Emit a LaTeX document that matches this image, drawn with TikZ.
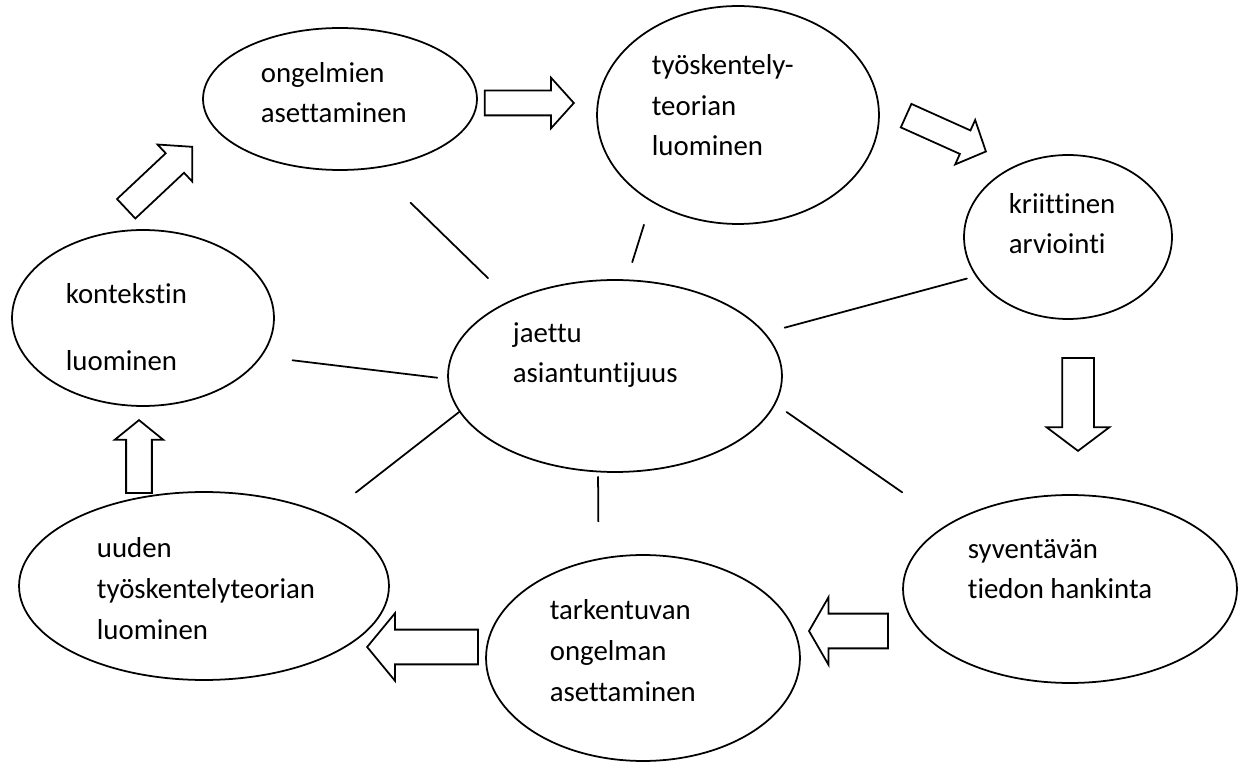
\documentclass[tikz,border=0pt]{standalone}
\usepackage{fontspec}
\setmainfont{Carlito}[Ligatures={NoCommon,NoContextual}]
\usetikzlibrary{shapes.geometric, shapes.arrows}

\begin{document}
\begin{tikzpicture}[x=0.02cm, y=-0.02cm, line width=1pt,
    bubble/.style={ellipse, draw, inner sep=0pt},
    lbl/.style={anchor=base west, align=left, inner sep=0pt,
      font=\fontsize{16.4}{23.3}\selectfont},
    spoke/.style={line cap=round},
    blockarrow/.style={single arrow, draw, inner xsep=0pt, anchor=tip}]
  \useasboundingbox (0,0) rectangle (1238,763);

  % bubbles
  \node[bubble, minimum width=5.48cm, minimum height=2.84cm] (ong) at (340,99) {};
  \node[bubble, minimum width=5.64cm, minimum height=4.36cm] (tyo) at (738,115) {};
  \node[bubble, minimum width=4.16cm, minimum height=3.28cm] (kri) at (1068,237) {};
  \node[bubble, minimum width=6.68cm, minimum height=3.84cm] (jae) at (615,376) {};
  \node[bubble, minimum width=5.24cm, minimum height=3.52cm] (kon) at (143,318) {};
  \node[bubble, minimum width=7.40cm, minimum height=3.76cm] (uud) at (204,586) {};
  \node[bubble, minimum width=6.28cm, minimum height=4.12cm] (tar) at (643,658) {};
  \node[bubble, minimum width=6.68cm, minimum height=3.76cm] (syv) at (1070,589) {};

  % texts (placed at the baseline of their last line)
  \node[lbl] (ongtxt) at (260,123) {ongelmien\\asettaminen};
  \node[lbl] (tyotxt) at (651,156) {työskentely-\\teorian\\luominen};
  \node[lbl] (kritxt) at (1008,254) {kriittinen\\arviointi};
  \node[lbl] (jaetxt) at (512,383) {jaettu\\asiantuntijuus};
  \node[lbl] (kontxt) at (65,371) {kontekstin\\[15.4pt]luominen};
  \node[lbl] (uudtxt) at (96,639) {uuden\\työskentelyteorian\\luominen};
  \node[lbl] (tartxt) at (549,701) {tarkentuvan\\ongelman\\asettaminen};
  \node[lbl] (syvtxt) at (967,599) {syventävän\\tiedon hankinta};

  % spokes to the centre
  \draw[spoke, shorten <=0.98cm, shorten >=0.63cm] (ong.-63) -- (jae.144);
  \draw[spoke, shorten <=0.48cm, shorten >=0.36cm] (tyo.225) -- (jae.83);
  \draw[spoke, shorten <=0.18cm, shorten >=0.40cm] (kri.203.5) -- (jae.16);
  \draw[spoke, shorten <=0.62cm, shorten >=0.20cm] (kon.-18.7) -- (jae.181);
  \draw[spoke, shorten <=0.27cm, shorten >=1.11cm] (jae.-10) -- (syv.152);
  \draw[spoke, shorten <=0.09cm, shorten >=0.74cm] (jae.-100) -- (tar.114.5);
  \draw[spoke, shorten >=0.73cm] (jae.193) -- (uud.30);

  % cycle arrows
  \node[blockarrow, rotate=43.2, minimum height=1.81cm, inner ysep=0.25cm,
    single arrow head extend=0.24cm, single arrow tip angle=94] (a1) at (193,146) {};
  \node[blockarrow, minimum height=1.78cm, inner ysep=0.23cm,
    single arrow head extend=0.26cm, single arrow tip angle=96] (a2) at (575,103) {};
  \node[blockarrow, rotate=-24.2, minimum height=1.75cm, inner ysep=0.24cm,
    single arrow head extend=0.23cm, single arrow tip angle=94] (a3) at (987,152) {};
  \node[blockarrow, rotate=-90, minimum height=1.86cm, inner ysep=0.30cm,
    single arrow head extend=0.31cm, single arrow tip angle=106] (a4) at (1078,452) {};
  \node[blockarrow, rotate=180, minimum height=1.58cm, inner ysep=0.33cm,
    single arrow head extend=0.33cm, single arrow tip angle=120] (a5) at (808,631) {};
  \node[blockarrow, rotate=180, minimum height=2.22cm, inner ysep=0.33cm,
    single arrow head extend=0.33cm, single arrow tip angle=101] (a6) at (366,647) {};
  \node[blockarrow, rotate=90, minimum height=1.46cm, inner ysep=0.24cm,
    single arrow head extend=0.23cm, single arrow tip angle=102] (a7) at (139,419) {};
\end{tikzpicture}
\end{document}
